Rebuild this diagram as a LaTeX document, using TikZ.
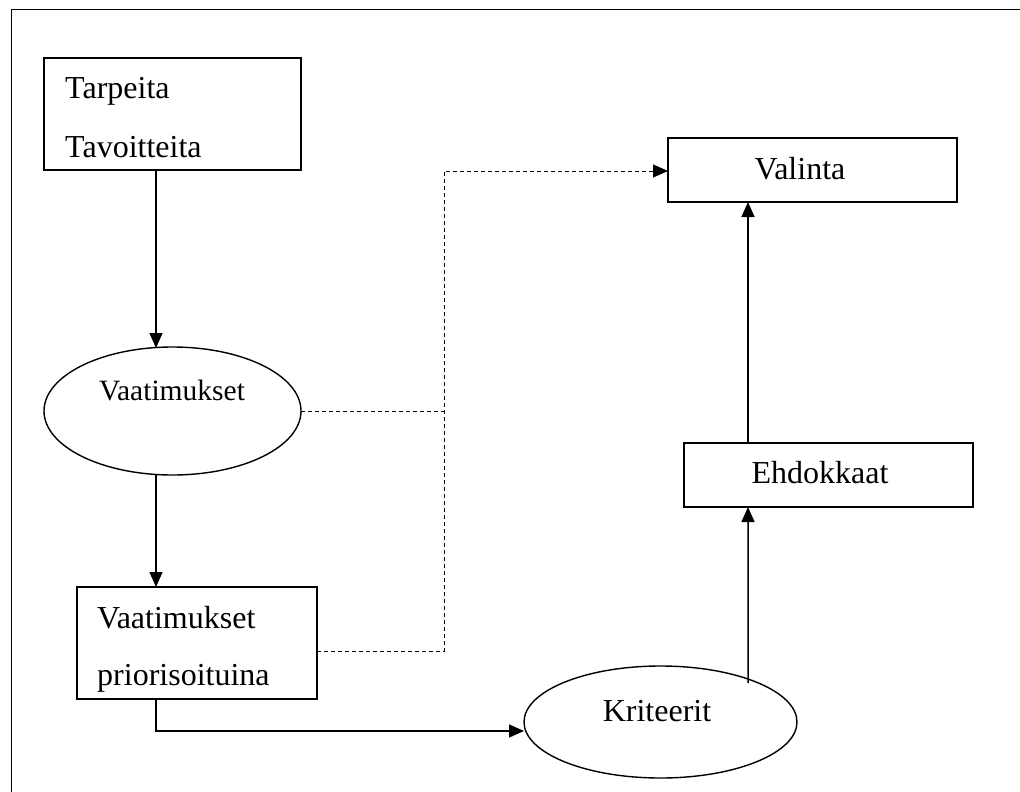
\documentclass[tikz,border=0pt]{standalone}
\usepackage{fontspec}
\setmainfont{Liberation Serif}
\usetikzlibrary{arrows.meta,shapes.geometric}
\begin{document}
\begin{tikzpicture}[x=1bp,y=-1bp,
  shp/.style={draw,line width=1.4bp,inner sep=0pt,outer sep=0pt},
  boxshape/.style={shp,rectangle},
  ellshape/.style={shp,ellipse},
  lbl/.style={inner sep=0pt,font=\fontsize{32bp}{38bp}\selectfont},
  lblsmall/.style={inner sep=0pt,font=\fontsize{29.5bp}{35bp}\selectfont},
  conn/.style={line width=1.5bp,-{Triangle[length=15bp,width=13bp]}},
  dline/.style={line width=1bp,dash pattern=on 4bp off 3bp},
  frame/.style={line width=1.7bp}]
\useasboundingbox (0,0) rectangle (1020,792);
% frame (top and left edges)
\draw[frame] (11.5,792) -- (11.5,9.5) -- (1020,9.5);
% shapes
\node[boxshape,minimum width=257bp,minimum height=112bp] (box1) at (172.5,114) {};
\node[ellshape,minimum width=257bp,minimum height=128bp] (ell1) at (172.5,411) {};
\node[boxshape,minimum width=240bp,minimum height=112bp] (box2) at (197,643) {};
\node[ellshape,minimum width=273bp,minimum height=112bp] (ell2) at (660.5,722) {};
\node[boxshape,minimum width=289bp,minimum height=64bp] (box3) at (828.5,475) {};
\node[boxshape,minimum width=289bp,minimum height=64bp] (box4) at (812.5,170) {};
% texts
\node[lbl,anchor=base west] (t1a) at (65,99) {Tarpeita};
\node[lbl,anchor=base west] (t1b) at (65,157) {Tavoitteita};
\node[lblsmall,anchor=base] (t2) at (172,400) {Vaatimukset};
\node[lbl,anchor=base west] (t3a) at (97,628) {Vaatimukset};
\node[lbl,anchor=base west] (t3b) at (97,685) {priorisoituina};
\node[lbl,anchor=base] (t4) at (657,721) {Kriteerit};
\node[lbl,anchor=base] (t5) at (820,483) {Ehdokkaat};
\node[lbl,anchor=base] (t6) at (800,179) {Valinta};
% helper coordinates
\coordinate (cx) at (156,0);
\coordinate (rx) at (748,0);
\coordinate (jx) at (444,0);
% solid connectors
\draw[conn] (cx |- box1.south) -- ([yshift=-1bp]cx |- ell1.north);
\draw[conn] (cx |- ell1.south) -- (cx |- box2.north);
\draw[conn] (cx |- box2.south) |- ([yshift=-9bp]ell2.west);
\draw[conn] ([xshift=87.5bp,yshift=39bp]ell2.center) -- (rx |- box3.south);
\draw[conn] (rx |- box3.north) -- (rx |- box4.south);
% dashed connectors
\draw[dline] (ell1.east) -- (jx |- ell1.east);
\draw[dline,-{Triangle[length=15bp,width=13bp]}] ([yshift=-8bp]box2.east) -| ([yshift=-1bp]jx |- box4.west) -- ([yshift=-1bp]box4.west);
\end{tikzpicture}
\end{document}
